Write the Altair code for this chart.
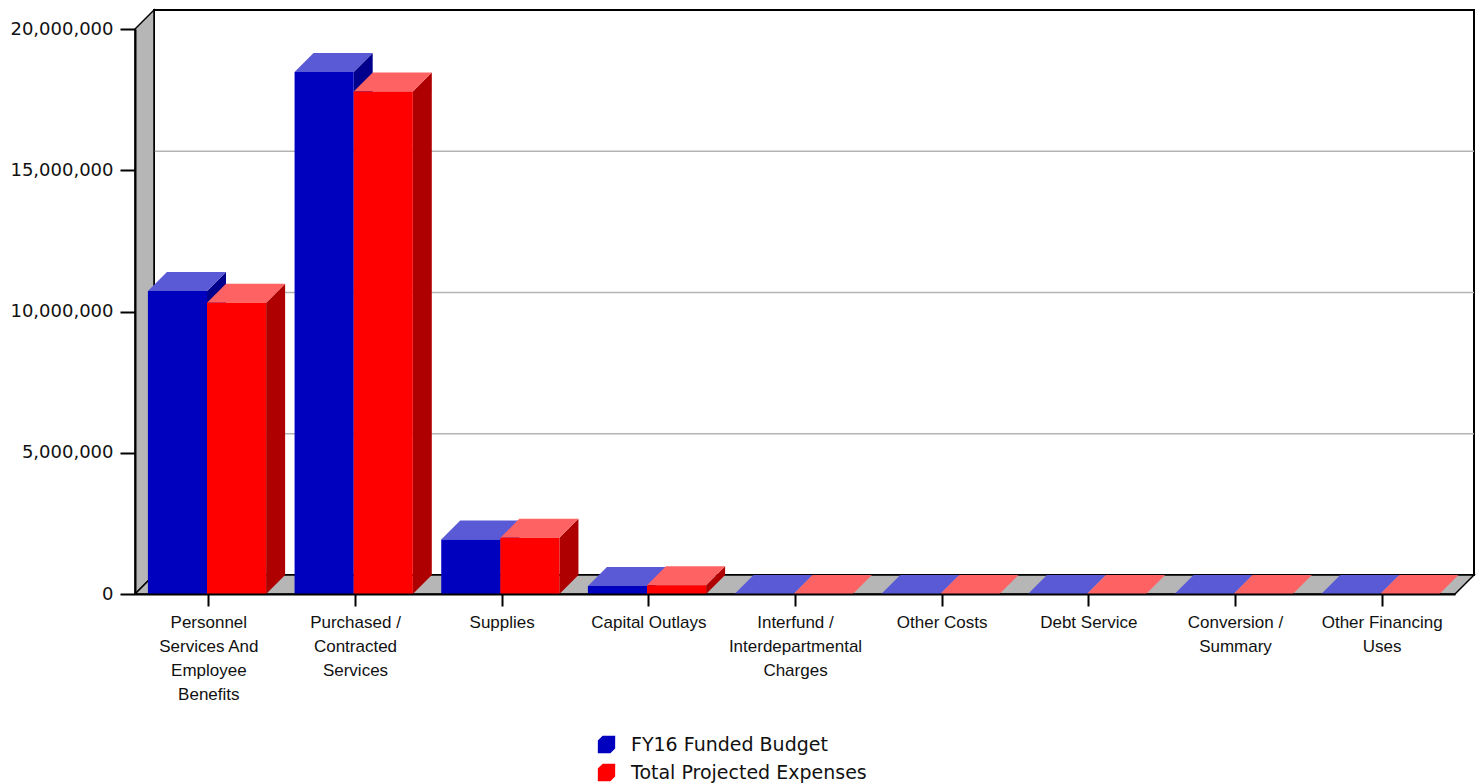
import json

import altair as alt
import pandas as pd

# ---- data -------------------------------------------------------------
CATEGORY_LINES = [
    ["Personnel", "Services And", "Employee", "Benefits"],
    ["Purchased /", "Contracted", "Services"],
    ["Supplies"],
    ["Capital Outlays"],
    ["Interfund /", "Interdepartmental", "Charges"],
    ["Other Costs"],
    ["Debt Service"],
    ["Conversion /", "Summary"],
    ["Other Financing", "Uses"],
]
CATEGORIES = [" ".join(lines) for lines in CATEGORY_LINES]
SERIES = ["FY16 Funded Budget", "Total Projected Expenses"]
BUDGET = [10_730_000, 18_480_000, 1_930_000, 280_000, 0, 0, 0, 0, 0]
EXPENSES = [10_310_000, 17_790_000, 1_990_000, 310_000, 0, 0, 0, 0, 0]
Y_TICKS = [0, 5_000_000, 10_000_000, 15_000_000, 20_000_000]
Y_MAX = 20_000_000

# ---- geometry / style -------------------------------------------------
W, H = 1320, 565                      # front plot face in px
N = len(CATEGORIES)
DEPTH_PX = 19                         # 3-D depth, px
DXU = DEPTH_PX * N / W                # depth in x-units
DYU = DEPTH_PX * Y_MAX / H            # depth in value units
BAR_PAD = 0.088                       # gap before first bar in a band
BAR_W = 0.403                         # bar width in band units

COLORS = {
    SERIES[0]: {"front": "#0000BF", "top": "#5A5AD6", "side": "#00008C"},
    SERIES[1]: {"front": "#FF0000", "top": "#FF6262", "side": "#AE0000"},
}
WALL = "#B6B6B6"
GRID = "#B4B4B4"

X_SCALE = alt.Scale(domain=[0, N], nice=False, zero=False)
Y_SCALE = alt.Scale(domain=[0, Y_MAX], nice=False, zero=False)

X_AXIS = alt.Axis(
    title=None,
    values=[i + 0.5 for i in range(N)],
    labelExpr=json.dumps(CATEGORY_LINES) + "[floor(datum.value)]",
    labelOverlap=False,
    labelFlush=False,
    labelFont="Liberation Sans",
    labelFontSize=17,
    labelLineHeight=24,
    labelBaseline="top",
    labelColor="#111111",
    labelPadding=8,
    tickSize=12,
    tickWidth=2,
    tickColor="#000000",
    domainColor="#000000",
    domainWidth=2,
    grid=False,
    zindex=1,
)
Y_AXIS = alt.Axis(
    title=None,
    values=Y_TICKS,
    format=",d",
    labelFont="DejaVu Sans",
    labelFontSize=18,
    labelColor="#111111",
    labelPadding=7,
    tickSize=15,
    tickWidth=2,
    tickColor="#000000",
    domainColor="#000000",
    domainWidth=2,
    grid=False,
    zindex=1,
)

CUBE = "M-1,-0.45L-0.45,-1L1,-1L1,0.45L0.45,1L-1,1Z"
LEGEND = alt.Legend(
    title=None,
    orient="none",
    legendX=462,
    legendY=706,
    padding=0,
    symbolType=CUBE,
    symbolSize=300,
    symbolStrokeWidth=0,
    symbolOpacity=1,
    labelFont="DejaVu Sans",
    labelFontSize=19,
    labelColor="#111111",
    labelOffset=15,
    labelLimit=0,
    rowPadding=8,
)

# ---- tables -----------------------------------------------------------
fronts, tops, sides = [], [], []
for s_i, (name, vals) in enumerate(zip(SERIES, [BUDGET, EXPENSES])):
    for i, v in enumerate(vals):
        x0 = i + BAR_PAD + s_i * BAR_W
        x1 = x0 + BAR_W
        bar = f"{name}-{i}"
        fronts.append(dict(series=name, category=CATEGORIES[i], x0=x0, x1=x1, v=v))
        tops.append(dict(series=name, bar=bar, y=v, xa=x0, xb=x1))
        tops.append(dict(series=name, bar=bar, y=v + DYU, xa=x0 + DXU, xb=x1 + DXU))
        sides.append(dict(series=name, bar=bar, x=x1, ya=0, yb=v))
        sides.append(dict(series=name, bar=bar, x=x1 + DXU, ya=DYU, yb=v + DYU))
fronts = pd.DataFrame(fronts)
tops = pd.DataFrame(tops)
sides = pd.DataFrame(sides)

back_wall = pd.DataFrame([dict(xa=DXU, xb=N + DXU, ya=DYU, yb=Y_MAX + DYU)])
grid = pd.DataFrame([dict(xa=DXU, xb=N + DXU, y=t + DYU) for t in Y_TICKS[1:-1]])
left_wall = pd.DataFrame([dict(x=0, ya=0, yb=Y_MAX), dict(x=DXU, ya=DYU, yb=Y_MAX + DYU)])
floor = pd.DataFrame([dict(y=0, xa=0, xb=N), dict(y=DYU, xa=DXU, xb=N + DXU)])

# ---- layers -----------------------------------------------------------
def X(field):
    return alt.X(field, type="quantitative", scale=X_SCALE, axis=X_AXIS)


def Y(field):
    return alt.Y(field, type="quantitative", scale=Y_SCALE, axis=Y_AXIS)


layers = [
    alt.Chart(back_wall).mark_rect(fill="white", stroke="black", strokeWidth=2).encode(
        x=X("xa"), x2="xb", y=Y("ya"), y2="yb"
    ),
    alt.Chart(grid).mark_rule(color=GRID, strokeWidth=1.5).encode(
        x=X("xa"), x2="xb", y=Y("y")
    ),
    alt.Chart(left_wall).mark_area(fill=WALL, stroke="black", strokeWidth=1.5).encode(
        x=X("x"), y=Y("ya"), y2="yb"
    ),
    alt.Chart(floor).mark_area(orient="horizontal", fill=WALL, stroke="black", strokeWidth=1.5).encode(
        y=Y("y"), x=X("xa"), x2="xb"
    ),
]

for name in SERIES:
    c = COLORS[name]
    layers.append(
        alt.Chart(sides[sides.series == name]).mark_area(fill=c["side"], strokeWidth=0).encode(
            x=X("x"), y=Y("ya"), y2="yb", detail="bar:N"
        )
    )
    layers.append(
        alt.Chart(tops[tops.series == name]).mark_area(orient="horizontal", fill=c["top"], strokeWidth=0).encode(
            y=Y("y"), x=X("xa"), x2="xb", detail="bar:N"
        )
    )
    layers.append(
        alt.Chart(fronts[fronts.series == name]).mark_rect(strokeWidth=0).encode(
            x=X("x0"), x2="x1", y=Y("v"), y2=alt.Y2(datum=0),
            color=alt.Color(
                "series:N",
                scale=alt.Scale(domain=SERIES, range=[COLORS[s]["front"] for s in SERIES]),
                legend=LEGEND,
            ),
            tooltip=["category:N", "series:N", alt.Tooltip("v:Q", format=",d")],
        )
    )

chart = (
    alt.layer(*layers)
    .properties(
        width=W,
        height=H,
        autosize=alt.AutoSizeParams(type="none"),
        padding={"left": 135, "top": 29, "right": 26, "bottom": 189},
        background="white",
    )
    .configure_view(strokeWidth=0)
)

chart.save("out.html", embed_options={"renderer": "svg", "actions": False})
